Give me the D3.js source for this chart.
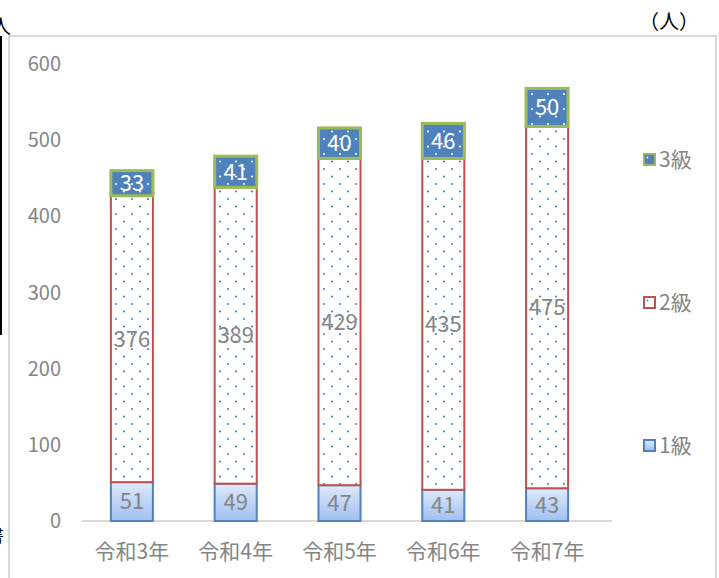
<!DOCTYPE html>
<html><head><meta charset="utf-8">
<script src="https://cdn.jsdelivr.net/npm/d3@7"></script>
<style>html,body{margin:0;padding:0;background:#fff;overflow:hidden}</style>
</head><body>
<svg id="c" width="719" height="578"></svg>
<script>
const categories = ["令和3年","令和4年","令和5年","令和6年","令和7年"];
const grade1 = [51,49,47,41,43];
const grade2 = [376,389,429,435,475];
const grade3 = [33,41,40,46,50];
const yTicks = [0,100,200,300,400,500,600];
const seriesNames = ["1級","2級","3級"];
const unitLabel = "（人）";

const svg = d3.select("#c");
const font = "'Noto Sans CJK JP','Noto Sans',sans-serif";
const grey = "#858585";

const defs = svg.append("defs");
const g1 = defs.append("linearGradient").attr("id","g1").attr("x1",0).attr("y1",0).attr("x2",0).attr("y2",1);
g1.append("stop").attr("offset","0%").attr("stop-color","#dfe9fb");
g1.append("stop").attr("offset","100%").attr("stop-color","#9fbff2");
const p2 = defs.append("pattern").attr("id","p2").attr("patternUnits","userSpaceOnUse").attr("width",16).attr("height",15);
p2.append("rect").attr("width",16).attr("height",15).attr("fill","#fff");
p2.append("circle").attr("cx",4).attr("cy",4).attr("r",1.1).attr("fill","#4f81bd");
p2.append("circle").attr("cx",12).attr("cy",11.5).attr("r",1.1).attr("fill","#4f81bd");
const p3 = defs.append("pattern").attr("id","p3").attr("patternUnits","userSpaceOnUse").attr("width",16).attr("height",15);
p3.append("rect").attr("width",16).attr("height",15).attr("fill","#4f81bd");
p3.append("circle").attr("cx",4).attr("cy",4).attr("r",1.1).attr("fill","#fff");
p3.append("circle").attr("cx",12).attr("cy",11.5).attr("r",1.1).attr("fill","#fff");

// frame
svg.append("rect").attr("x",9).attr("y",36).attr("width",707).attr("height",600)
  .attr("fill","none").attr("stroke","#d9d9d9").attr("stroke-width",2);
svg.append("line").attr("x1",1).attr("x2",1).attr("y1",36).attr("y2",335).attr("stroke","#000").attr("stroke-width",2);
svg.append("text").attr("x",-9).attr("y",34).attr("font-family",font).attr("font-size",20).attr("fill","#000").text("人");
svg.append("text").attr("x",-14).attr("y",542).attr("font-family",font).attr("font-size",18).attr("fill","#000").text("書");

const x = d3.scaleBand().domain(categories).range([80,599]).paddingInner(0.595).paddingOuter(0.2975);
const y = d3.scaleLinear().domain([0,600]).range([521,64]);

// y ticks
svg.append("g").selectAll("text").data(yTicks).join("text")
  .attr("x",61).attr("y",d=>y(d)).attr("dy","0.35em").attr("text-anchor","end")
  .attr("font-family",font).attr("font-size",20).attr("fill",grey).text(d=>d);

// baseline
svg.append("line").attr("x1",82).attr("x2",612).attr("y1",y(0)).attr("y2",y(0)).attr("stroke","#d9d9d9").attr("stroke-width",2);

// x labels
svg.append("g").selectAll("text").data(categories).join("text")
  .attr("x",d=>x(d)+x.bandwidth()/2).attr("y",552).attr("dy","0.35em").attr("text-anchor","middle")
  .attr("font-family",font).attr("font-size",21).attr("fill",grey).text(d=>d);

const data = categories.map((c,i)=>({c, v:[grade1[i],grade2[i],grade3[i]]}));
const fills = ["url(#g1)","url(#p2)","url(#p3)"];
const strokes = ["#4f81bd","#c0504d","#9bbb59"];
const sw = [2,2,3];
const labelColor = [grey,grey,"#fff"];

for (let s=0;s<3;s++){
  const gS = svg.append("g");
  data.forEach(d=>{
    const base = d.v.slice(0,s).reduce((a,b)=>a+b,0);
    const top = base + d.v[s];
    const x0 = x(d.c), w = x.bandwidth();
    gS.append("rect").attr("x",x0).attr("y",y(top)).attr("width",w).attr("height",y(base)-y(top))
      .attr("fill",fills[s]).attr("stroke",strokes[s]).attr("stroke-width",sw[s]);
  });
}
for (let s=0;s<3;s++){
  data.forEach(d=>{
    const base = d.v.slice(0,s).reduce((a,b)=>a+b,0);
    const mid = base + d.v[s]/2;
    svg.append("text").attr("x",x(d.c)+x.bandwidth()/2).attr("y",y(mid)).attr("dy","0.36em")
      .attr("text-anchor","middle").attr("font-family",font).attr("font-size",22)
      .attr("fill",labelColor[s]).text(d.v[s]);
  });
}

// legend
const legY = [446,303,160];
seriesNames.forEach((n,i)=>{
  svg.append("rect").attr("x",644).attr("y",legY[i]-6).attr("width",11).attr("height",11)
    .attr("fill",i==0?"url(#g1)":(i==1?"#fff":"#4f81bd")).attr("stroke",strokes[i]).attr("stroke-width",2);
  if(i>0) svg.append("circle").attr("cx",647.5).attr("cy",legY[i]-2.5).attr("r",0.9).attr("fill",i==1?"#4f81bd":"#fff");
  svg.append("text").attr("x",659).attr("y",legY[i]).attr("dy","0.35em").attr("font-family",font)
    .attr("font-size",21).attr("fill",grey).text(n);
});

svg.append("text").attr("x",669).attr("y",22).attr("dy","0.35em").attr("text-anchor","middle")
  .attr("font-family",font).attr("font-size",20).attr("fill","#000").text(unitLabel);
</script>
</body></html>
